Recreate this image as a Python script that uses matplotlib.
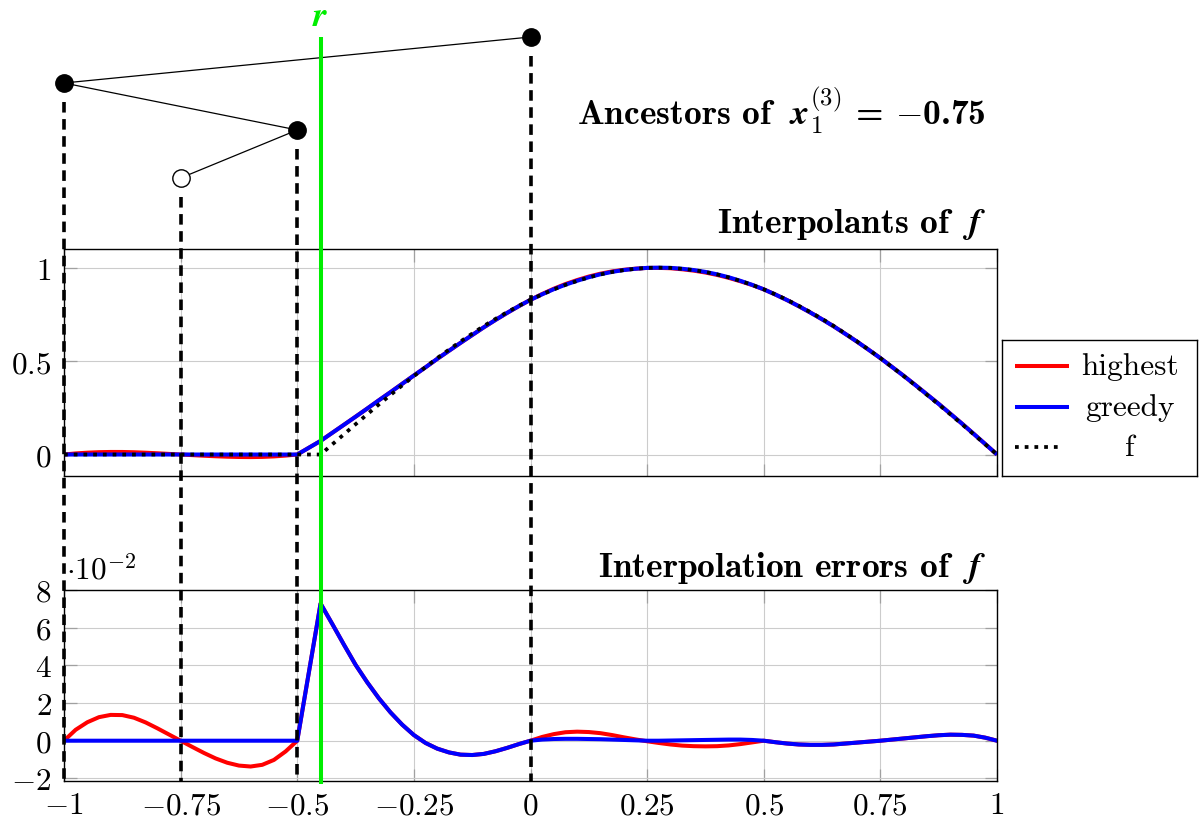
import numpy as np
import matplotlib
matplotlib.use('Agg')
import matplotlib.pyplot as plt
from matplotlib.ticker import FixedLocator, FixedFormatter

plt.rcParams['mathtext.fontset'] = 'cm'
plt.rcParams['font.family'] = 'serif'
plt.rcParams['font.serif'] = ['cmr10', 'DejaVu Serif']
plt.rcParams['lines.scale_dashes'] = False
plt.rcParams['axes.unicode_minus'] = False

# ---------------- data ----------------
x = [-1.0, -0.975, -0.95, -0.925, -0.9, -0.875, -0.85, -0.825, -0.8, -0.775,
     -0.75, -0.725, -0.7, -0.675, -0.65, -0.625, -0.6, -0.575, -0.55, -0.525,
     -0.5, -0.475, -0.45, -0.425, -0.4, -0.375, -0.35, -0.325, -0.3, -0.275,
     -0.25, -0.225, -0.2, -0.175, -0.15, -0.125, -0.1, -0.075, -0.05, -0.025,
     0.0, 0.025, 0.05, 0.075, 0.1, 0.125, 0.15, 0.175, 0.2, 0.225,
     0.25, 0.275, 0.3, 0.325, 0.35, 0.375, 0.4, 0.425, 0.45, 0.475,
     0.5, 0.525, 0.55, 0.575, 0.6, 0.625, 0.65, 0.675, 0.7, 0.725,
     0.75, 0.775, 0.8, 0.825, 0.85, 0.875, 0.9, 0.925, 0.95, 0.975, 1.0]

f_vals = [0, 0, 0, 0, 0, 0, 0, 0, 0, 0,
          0, 0, 0, 0, 0, 0, 0, 0, 0, 0,
          0, 0, 0, 0.054, 0.108, 0.162, 0.215, 0.268, 0.319, 0.370,
          0.420, 0.468, 0.516, 0.561, 0.605, 0.647, 0.688, 0.726, 0.762, 0.796,
          0.828, 0.857, 0.884, 0.908, 0.929, 0.948, 0.964, 0.977, 0.987, 0.994,
          0.999, 1.000, 0.999, 0.994, 0.987, 0.977, 0.964, 0.948, 0.929, 0.908,
          0.884, 0.857, 0.828, 0.796, 0.762, 0.726, 0.688, 0.647, 0.605, 0.561,
          0.516, 0.468, 0.420, 0.370, 0.319, 0.268, 0.215, 0.162, 0.108, 0.054, 0.0]

# interpolation errors, in units of 1e-2
err_highest = [0, 0.58, 0.98, 1.25, 1.37, 1.36, 1.22, 0.97, 0.66, 0.33,
               0, -0.33, -0.65, -0.94, -1.17, -1.32, -1.37, -1.28, -1.02, -0.57,
               0, 3.64, 7.28, 6.2, 5.1, 4.03, 3.1, 2.25, 1.5, 0.85,
               0.3, -0.12, -0.42, -0.62, -0.74, -0.76, -0.7, -0.56, -0.38, -0.18,
               0, 0.2, 0.35, 0.45, 0.48, 0.46, 0.4, 0.3, 0.18, 0.07,
               -0.03, -0.12, -0.2, -0.26, -0.29, -0.3, -0.29, -0.25, -0.18, -0.09,
               0, -0.08, -0.15, -0.2, -0.22, -0.22, -0.2, -0.15, -0.1, -0.05,
               0, 0.06, 0.12, 0.18, 0.24, 0.29, 0.32, 0.31, 0.27, 0.16, 0]

err_greedy = [0, 0, 0, 0, 0, 0, 0, 0, 0, 0,
              0, 0, 0, 0, 0, 0, 0, 0, 0, 0,
              0, 3.64, 7.28, 6.2, 5.1, 4.03, 3.1, 2.25, 1.5, 0.85,
              0.3, -0.12, -0.42, -0.62, -0.74, -0.76, -0.7, -0.56, -0.38, -0.18,
              0, 0.06, 0.09, 0.1, 0.1, 0.09, 0.08, 0.06, 0.04, 0.02,
              0, 0, 0.01, 0.02, 0.03, 0.04, 0.05, 0.06, 0.06, 0.04,
              0, -0.08, -0.15, -0.2, -0.22, -0.22, -0.2, -0.15, -0.1, -0.05,
              0, 0.06, 0.12, 0.18, 0.24, 0.29, 0.32, 0.31, 0.27, 0.16, 0]

r_value = -0.45
ancestor_x = [0.0, -1.0, -0.5, -0.75]   # tree nodes (root first)
ancestor_parent = [None, 0, 1, 2]
ancestor_filled = [True, True, True, False]

xtick_vals = [-1, -0.75, -0.5, -0.25, 0, 0.25, 0.5, 0.75, 1]
xtick_labels = ['$-1$', '$-0.75$', '$-0.5$', '$-0.25$', '$0$', '$0.25$', '$0.5$', '$0.75$', '$1$']
ytick1_vals = [0, 0.5, 1]
ytick1_labels = ['$0$', '$0.5$', '$1$']
ytick2_vals = [-2, 0, 2, 4, 6, 8]
ytick2_labels = ['$-2$', '$0$', '$2$', '$4$', '$6$', '$8$']
legend_labels = ['highest', 'greedy', 'f']

xa = np.array(x)
fa = np.array(f_vals)
eh = np.array(err_highest)
eg = np.array(err_greedy)
interp_highest = fa + eh * 1e-2
interp_greedy = fa + eg * 1e-2

# ---------------- layout ----------------
W, H = 1199, 829
fig = plt.figure(figsize=(W / 100, H / 100), dpi=100)


def fx(px):
    return px / W


def fy(py):
    return 1 - py / H


L, R = 64, 997
ax1 = fig.add_axes([fx(L), fy(477), fx(R - L), (477 - 250) / H])
ax2 = fig.add_axes([fx(L), fy(782.4), fx(R - L), (782.4 - 591) / H])

RED = '#ff0000'
BLUE = '#0000ff'
LW = 2.9
FS = 22.5
TFS = 25.5

ax1.plot(xa, interp_highest, color=RED, lw=LW, solid_capstyle='butt')
ax1.plot(xa, interp_greedy, color=BLUE, lw=LW, solid_capstyle='butt')
ax1.plot(xa, fa, color='black', lw=2.7, dashes=(2.7, 4.3), dash_capstyle='butt')
ax1.set_xlim(-1, 1)
ax1.set_ylim(-0.115, 1.1)

ax2.plot(xa, eh, color=RED, lw=LW)
ax2.plot(xa, eg, color=BLUE, lw=LW)
ax2.set_xlim(-1, 1)
ax2.set_ylim(-2.16, 8.0)

for ax, yv, yl, showx in [(ax1, ytick1_vals, ytick1_labels, False),
                          (ax2, ytick2_vals, ytick2_labels, True)]:
    ax.xaxis.set_major_locator(FixedLocator(xtick_vals))
    ax.yaxis.set_major_locator(FixedLocator(yv))
    ax.yaxis.set_major_formatter(FixedFormatter(yl))
    if showx:
        ax.xaxis.set_major_formatter(FixedFormatter(xtick_labels))
    else:
        ax.set_xticklabels([])
    ax.grid(True, color='#cccccc', lw=0.8)
    ax.set_axisbelow(True)
    ax.tick_params(direction='in', top=True, right=True, length=9, width=0.9,
                   color='#a0a0a0', labelsize=FS)
    ax.tick_params(axis='y', pad=9)
    ax.tick_params(axis='x', pad=7)
    for s in ax.spines.values():
        s.set_linewidth(1.0)
        s.set_color('black')

# titles (bold Computer Modern text with math parts)
fig.text(fx(986), fy(125),
         r'Ancestors of $\;\mathbfit{x}_{1}^{(3)}$ = $-$0.75',
         family='cmb10', ha='right', va='baseline', fontsize=TFS)
fig.text(fx(986), fy(233), r'Interpolants of $\;\mathbfit{f}$',
         family='cmb10', ha='right', va='baseline', fontsize=TFS)
fig.text(fx(986), fy(577), r'Interpolation errors of $\;\mathbfit{f}$',
         family='cmb10', ha='right', va='baseline', fontsize=TFS)
fig.text(fx(66), fy(580), r'$\cdot 10^{-2}$', ha='left', va='baseline', fontsize=FS)

# legend (manual box)
lax = fig.add_axes([fx(1002), fy(477), fx(195), 136 / H])
lax.set_xlim(1002, 1197)
lax.set_ylim(477, 341)
lax.set_xticks([])
lax.set_yticks([])
for s in lax.spines.values():
    s.set_linewidth(1.0)
    s.set_color('black')
rows = [367, 408, 448]
lax.plot([1015, 1069], [rows[0], rows[0]], color=RED, lw=LW, solid_capstyle='butt')
lax.plot([1015, 1069], [rows[1], rows[1]], color=BLUE, lw=LW, solid_capstyle='butt')
lax.plot([1015, 1063], [rows[2], rows[2]], color='black', lw=2.7, dashes=(2.7, 4.3), dash_capstyle='butt')
for yy, lab in zip(rows, legend_labels):
    lax.text(1130, yy, lab, family='cmr10', ha='center', va='center', fontsize=FS)

# overlay: ancestor tree, dashed verticals, r line
ov = fig.add_axes([fx(L), 0, fx(R - L), 1])
ov.set_xlim(-1, 1)
ov.set_ylim(H, 0)
ov.axis('off')
ov.patch.set_alpha(0)
node_y = [38, 84, 131, 179]
for i, (xv, par) in enumerate(zip(ancestor_x, ancestor_parent)):
    if par is not None:
        ov.plot([ancestor_x[par], xv], [node_y[par], node_y[i]], color='black', lw=0.9,
                clip_on=False, zorder=2)
for i, xv in enumerate(ancestor_x):
    ov.plot([xv, xv], [node_y[i] + 19, 783], color='black', lw=2.6, dashes=(7.6, 4.7),
            dash_capstyle='butt', clip_on=False, zorder=3)
    if ancestor_filled[i]:
        ov.plot([xv], [node_y[i]], 'o', ms=12.5, mfc='black', mec='black', clip_on=False, zorder=5)
    else:
        ov.plot([xv], [node_y[i]], 'o', ms=12.5, mfc='white', mec='black', mew=1.0,
                clip_on=False, zorder=5)
GREEN = '#00ee00'
ov.plot([r_value, r_value], [38, 785], color=GREEN, lw=2.9, solid_capstyle='butt',
        clip_on=False, zorder=4)
ov.text(r_value, 17, r'$\mathbfit{r}$', color=GREEN, ha='center', va='center', fontsize=TFS)

fig.savefig('out.png', dpi=100)
